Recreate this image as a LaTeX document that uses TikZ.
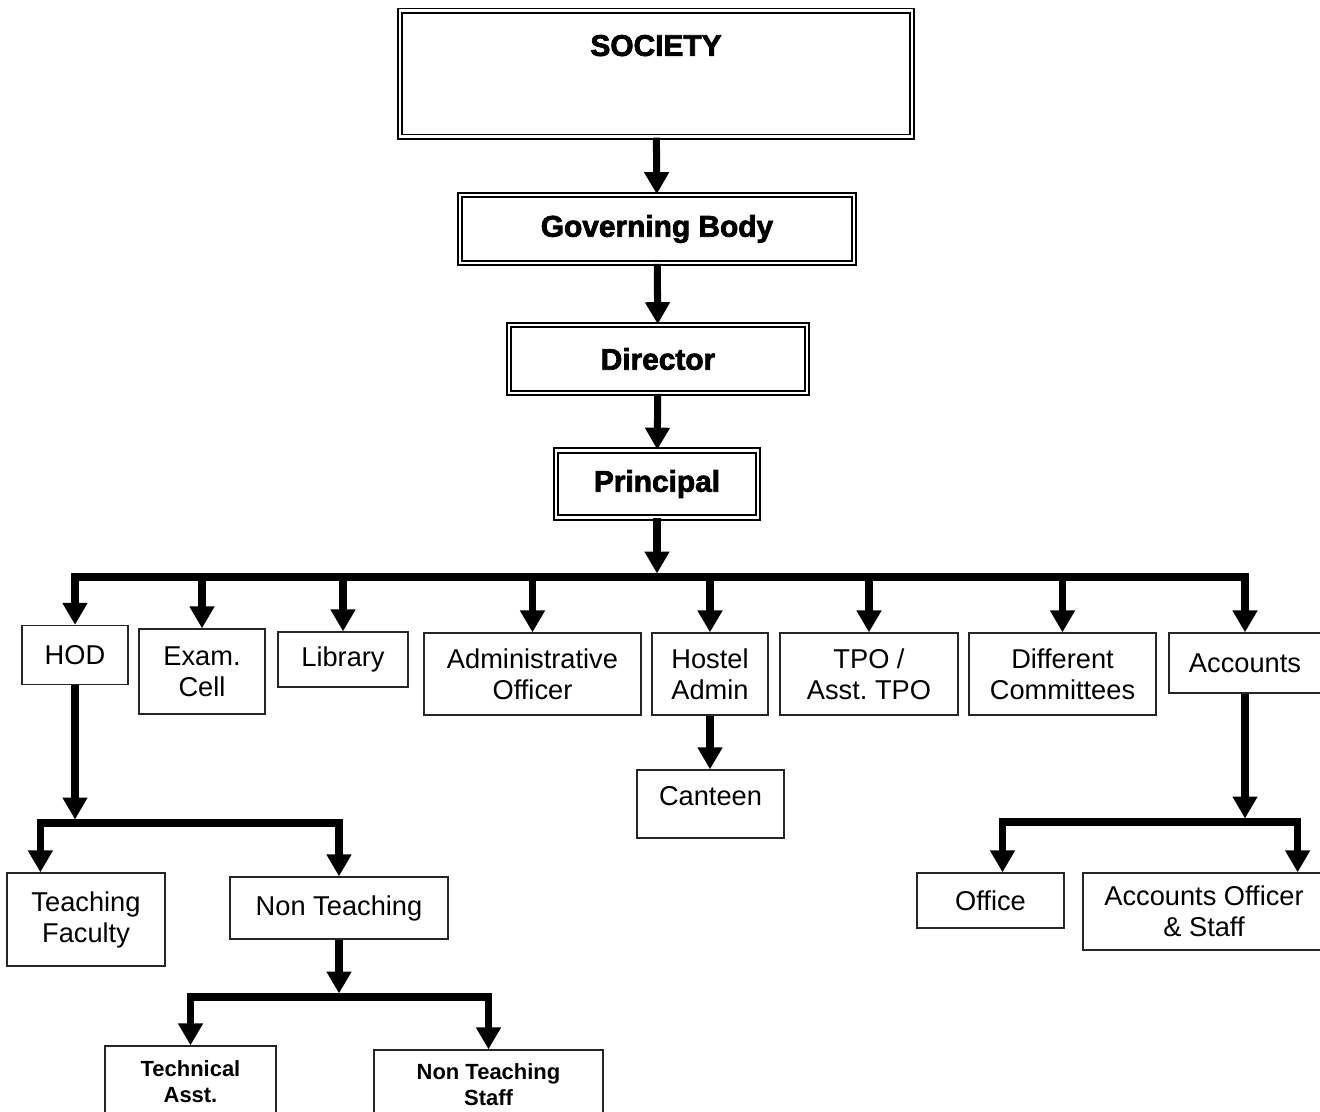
\documentclass[tikz,border=0pt]{standalone}
\usepackage{fontspec}
\setmainfont{Liberation Sans}
\newfontfamily\headfont{Liberation Sans Bold}[FakeBold=2.5]
\usetikzlibrary{arrows.meta,calc,positioning}
\frenchspacing

\begin{document}
\begin{tikzpicture}[x=0.02cm,y=-0.02cm,
  headbox/.style={draw,line width=1pt,double,double distance=1.6pt,inner sep=0pt,
    font=\headfont\fontsize{17}{20}\selectfont},
  plainbox/.style={draw=black!85,line width=0.75pt,inner sep=2pt,align=center,
    font=\fontsize{15.5}{17.6}\selectfont},
  smallbox/.style={plainbox,font=\bfseries\fontsize{12.5}{14.7}\selectfont},
  arr/.style={line width=4pt,-{Triangle[width=13.5pt,length=12.5pt]}},
  twoway/.style={line width=4pt,{Triangle[width=13.5pt,length=12.5pt]}-{Triangle[width=13.5pt,length=12.5pt]}}]
\useasboundingbox (0,0) rectangle (1320,1112);
\clip (0,0) rectangle (1320,1112);
% top of the chart
\node[headbox,anchor=north,minimum width=10.24cm,text height=0.9cm,text depth=1.62cm] (soc) at (656,10) {SOCIETY};
\node[headbox,minimum width=7.88cm,minimum height=1.36cm] (gov) at (657,229) {Governing Body};
\node[headbox,minimum width=5.96cm,minimum height=1.36cm] (dir) at (658,359) {Director};
\node[headbox,minimum width=4.04cm,minimum height=1.34cm] (prin) at (657,484) {Principal};
\draw[arr] (soc) -- (gov);
\draw[arr] (gov) -- (dir);
\draw[arr] (dir) -- (prin);
% second row
\node[plainbox,minimum width=2.12cm,minimum height=1.18cm] (hod) at (75,655) {HOD};
\node[plainbox,minimum width=2.52cm,minimum height=1.7cm] (exam) at (202,671.5) {Exam.\\Cell};
\node[plainbox,minimum width=2.6cm,minimum height=1.1cm] (lib) at (343,659.5) {Library};
\node[plainbox,minimum width=4.34cm,minimum height=1.64cm] (admo) at (532.5,674) {Administrative\\Officer};
\node[plainbox,minimum width=2.32cm,minimum height=1.64cm] (hostel) at (710,674) {Hostel\\Admin};
\node[plainbox,minimum width=3.56cm,minimum height=1.64cm] (tpo) at (869,674) {TPO /\\Asst. TPO};
\node[plainbox,minimum width=3.74cm,minimum height=1.64cm] (comm) at (1062.5,674) {Different\\Committees};
\node[plainbox,minimum width=3.04cm,minimum height=1.2cm] (acc) at (1245,663) {Accounts};
\node[plainbox,minimum width=2.94cm,minimum height=1.36cm,text depth=9pt] (canteen) at (710.5,804) {Canteen};
\coordinate (bus) at (657,577);
\draw[arr,shorten >=2pt] (prin) -- (bus);
\draw[twoway] (hod.north) |- (bus) -| (acc.north);
\foreach \n in {exam,lib,admo,hostel,tpo,comm}
  \draw[arr] (bus -| \n.north) -- (\n.north);
\draw[arr] (hostel.south) -- (hostel.south |- canteen.north);
% HOD branch
\node[plainbox,minimum width=3.16cm,minimum height=1.86cm] (teach) at (86,919.5) {Teaching\\Faculty};
\node[plainbox,minimum width=4.36cm,minimum height=1.24cm] (nonteach) at (339,908) {Non Teaching};
\node[smallbox,minimum width=3.42cm,minimum height=1.44cm] (tech) at (190.5,1082) {Technical\\Asst.};
\node[smallbox,minimum width=4.58cm,minimum height=1.4cm] (nts) at (488.5,1085) {Non Teaching\\Staff};
\coordinate (hodbus) at (75,823);
\coordinate (ntbus) at (339,997);
\draw[arr,shorten >=2pt] (hod) -- (hodbus);
\draw[twoway] ($(teach.north west)+(34,0)$) |- (hodbus) -| (nonteach.north);
\draw[arr,shorten >=2pt] (nonteach) -- (ntbus);
\draw[twoway] (tech.north) |- (ntbus) -| (nts.north);
% Accounts branch
\node[plainbox,minimum width=2.94cm,minimum height=1.1cm] (office) at (990.5,900.5) {Office};
\node[plainbox,minimum width=4.84cm,minimum height=1.54cm] (aos) at (1204,911.5) {Accounts Officer\\\& Staff};
\coordinate (accbus) at (1245,822);
\draw[arr,shorten >=2pt] (acc) -- (accbus);
\draw[twoway] ($(office.north)+(12,0)$) |- (accbus) -| ($(aos.north east)+(-28,0)$);
\end{tikzpicture}
\end{document}
